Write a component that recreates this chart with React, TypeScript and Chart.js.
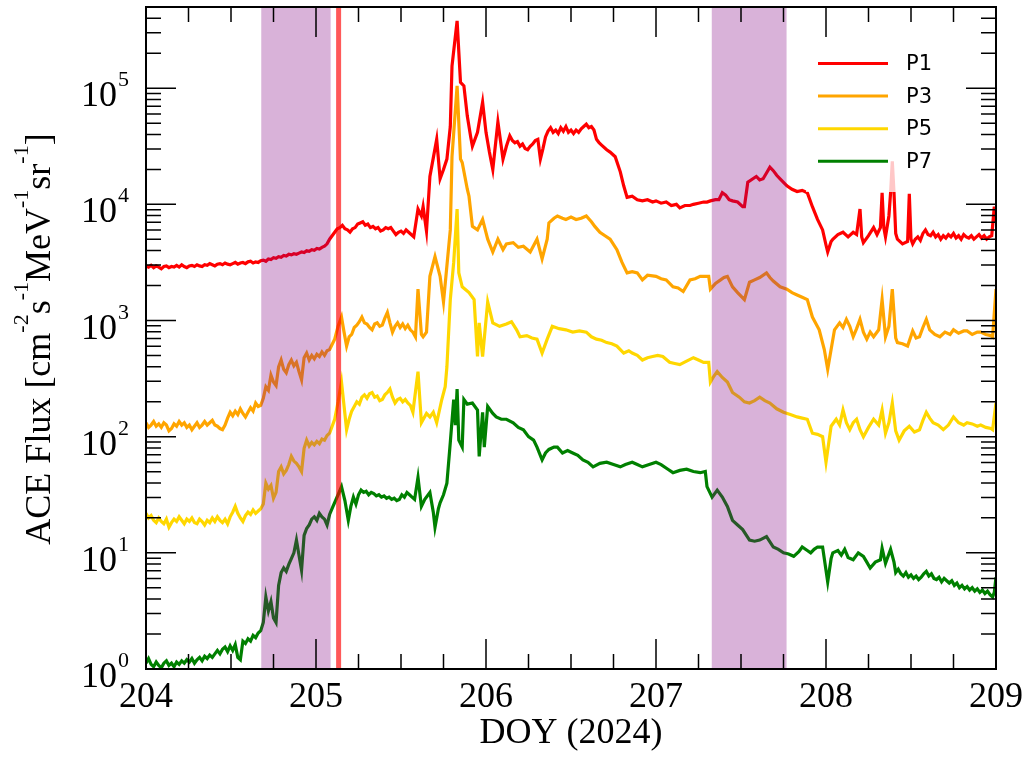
import React, { useEffect, useRef } from "react";
import { Chart, registerables } from "chart.js";

Chart.register(...registerables);

// ---- data: [DOY, log10(flux)] ----
const P1: number[][] = [
  [204.000,3.47],[204.015,3.46],[204.030,3.475],[204.045,3.455],[204.060,3.47],[204.075,3.46],[204.090,3.445],[204.105,3.465],
  [204.120,3.47],[204.135,3.455],[204.150,3.465],[204.165,3.46],[204.180,3.475],[204.195,3.46],[204.210,3.48],[204.225,3.465],
  [204.240,3.455],[204.255,3.47],[204.270,3.475],[204.285,3.465],[204.300,3.48],[204.315,3.47],[204.330,3.465],[204.345,3.48],
  [204.360,3.475],[204.375,3.49],[204.390,3.48],[204.405,3.47],[204.420,3.485],[204.435,3.49],[204.450,3.48],[204.465,3.495],
  [204.480,3.485],[204.495,3.48],[204.510,3.49],[204.525,3.50],[204.540,3.485],[204.555,3.495],[204.570,3.50],[204.585,3.49],
  [204.600,3.505],[204.615,3.51],[204.630,3.495],[204.645,3.505],[204.660,3.50],[204.675,3.515],[204.690,3.52],[204.705,3.51],
  [204.720,3.53],[204.735,3.525],[204.750,3.54],[204.765,3.535],[204.780,3.55],[204.795,3.545],[204.810,3.56],[204.825,3.555],
  [204.840,3.57],[204.855,3.565],[204.870,3.575],[204.885,3.57],[204.900,3.58],[204.915,3.59],[204.930,3.585],[204.945,3.60],
  [204.960,3.595],[204.975,3.61],[204.990,3.605],[205.005,3.62],[205.020,3.615],[205.035,3.63],[205.050,3.64],[205.065,3.66],
  [205.080,3.70],[205.110,3.76],[205.125,3.79],[205.140,3.80],[205.155,3.82],[205.170,3.79],[205.185,3.78],[205.200,3.76],
  [205.215,3.79],[205.230,3.80],[205.245,3.83],[205.260,3.84],[205.275,3.85],[205.290,3.82],[205.305,3.83],[205.320,3.80],
  [205.335,3.81],[205.350,3.79],[205.365,3.80],[205.380,3.77],[205.395,3.78],[205.410,3.80],[205.425,3.79],[205.440,3.80],
  [205.455,3.77],[205.470,3.74],[205.485,3.76],[205.500,3.77],[205.515,3.75],[205.530,3.78],[205.545,3.76],[205.560,3.74],
  [205.575,3.72],[205.60,3.96],[205.62,3.90],[205.63,3.98],[205.65,3.77],[205.67,4.24],[205.69,4.40],
  [205.71,4.56],[205.73,4.22],[205.75,4.30],[205.77,4.39],[205.79,4.67],[205.80,5.19],[205.83,5.58],[205.85,5.05],
  [205.87,5.02],[205.89,4.76],[205.91,4.58],[205.92,4.50],[205.95,4.62],[205.98,4.88],[206.00,4.62],[206.02,4.45],
  [206.04,4.30],[206.07,4.71],[206.10,4.39],[206.12,4.50],[206.140,4.59],[206.155,4.55],[206.170,4.53],[206.185,4.54],
  [206.200,4.50],[206.215,4.52],[206.230,4.48],[206.245,4.47],[206.260,4.50],[206.275,4.52],[206.290,4.55],[206.305,4.56],
  [206.320,4.39],[206.335,4.48],[206.350,4.58],[206.365,4.63],[206.380,4.66],[206.395,4.62],[206.410,4.64],[206.425,4.61],
  [206.440,4.66],[206.455,4.63],[206.470,4.67],[206.485,4.62],[206.500,4.64],[206.515,4.61],[206.530,4.64],[206.545,4.62],
  [206.560,4.65],[206.575,4.67],[206.590,4.69],[206.605,4.66],[206.620,4.67],[206.635,4.64],[206.650,4.56],[206.665,4.53],
  [206.68,4.51],[206.71,4.47],[206.73,4.45],[206.76,4.41],[206.79,4.28],[206.81,4.16],
  [206.83,4.06],[206.86,4.07],[206.89,4.04],[206.92,4.03],[206.95,4.04],[206.98,4.02],[207.00,4.03],[207.03,4.01],
  [207.06,4.02],[207.09,3.99],[207.12,4.00],[207.14,3.97],[207.17,3.99],[207.20,3.99],[207.22,4.00],[207.25,4.01],
  [207.28,4.02],[207.30,4.02],[207.32,4.03],[207.35,4.04],[207.37,4.04],[207.39,4.10],[207.41,4.08],[207.43,4.04],
  [207.45,4.03],[207.48,4.02],[207.51,3.98],[207.52,3.98],[207.54,4.19],[207.57,4.22],[207.59,4.24],[207.61,4.21],
  [207.63,4.22],[207.65,4.27],[207.67,4.32],[207.69,4.29],[207.71,4.25],[207.73,4.22],[207.75,4.19],[207.77,4.16],
  [207.80,4.13],[207.83,4.11],[207.86,4.12],[207.89,4.10],[207.92,3.98],[207.95,3.87],[207.98,3.78],[208.00,3.65],
  [208.01,3.59],[208.03,3.68],[208.04,3.70],[208.07,3.74],[208.10,3.76],[208.13,3.72],[208.16,3.76],[208.18,3.74],
  [208.20,3.96],[208.21,3.72],[208.22,3.67],[208.25,3.73],[208.28,3.80],[208.30,3.74],[208.32,3.80],[208.33,4.10],
  [208.34,3.80],[208.35,3.72],[208.37,3.90],[208.38,4.10],[208.39,4.37],[208.40,4.10],[208.41,3.75],[208.42,3.70],
  [208.45,3.66],[208.48,3.68],[208.49,4.09],[208.50,3.70],[208.510,3.66],[208.525,3.70],[208.540,3.72],[208.555,3.69],
  [208.570,3.75],[208.585,3.78],[208.600,3.74],[208.615,3.73],[208.630,3.76],[208.645,3.72],[208.660,3.74],[208.675,3.70],
  [208.690,3.73],[208.705,3.71],[208.720,3.74],[208.735,3.72],[208.750,3.75],[208.765,3.71],[208.780,3.73],[208.795,3.70],
  [208.810,3.74],[208.825,3.72],[208.840,3.71],[208.855,3.73],[208.870,3.70],[208.885,3.72],[208.900,3.74],[208.915,3.71],
  [208.930,3.73],[208.945,3.70],[208.960,3.72],[208.975,3.73],[208.990,3.98],[209.000,3.85],
];

const P3: number[][] = [
  [204.000,2.12],[204.015,2.08],[204.030,2.10],[204.045,2.13],[204.060,2.09],[204.075,2.11],[204.090,2.08],[204.105,2.12],
  [204.120,2.10],[204.135,2.05],[204.150,2.07],[204.165,2.11],[204.180,2.09],[204.195,2.13],[204.210,2.10],[204.225,2.12],
  [204.240,2.08],[204.255,2.10],[204.270,2.06],[204.285,2.09],[204.300,2.12],[204.315,2.08],[204.330,2.10],[204.345,2.13],
  [204.360,2.10],[204.375,2.12],[204.390,2.14],[204.405,2.10],[204.420,2.09],[204.435,2.07],[204.450,2.06],[204.465,2.10],
  [204.480,2.16],[204.495,2.21],[204.510,2.18],[204.525,2.22],[204.540,2.19],[204.555,2.24],[204.570,2.20],[204.585,2.17],
  [204.600,2.21],[204.615,2.25],[204.630,2.22],[204.645,2.29],[204.660,2.26],[204.675,2.27],[204.690,2.33],[204.705,2.43],
  [204.720,2.40],[204.735,2.53],[204.750,2.47],[204.765,2.44],[204.780,2.60],[204.795,2.66],[204.810,2.58],[204.825,2.55],
  [204.840,2.62],[204.855,2.66],[204.870,2.61],[204.885,2.64],[204.900,2.56],[204.915,2.49],[204.930,2.68],[204.945,2.72],
  [204.960,2.66],[204.975,2.70],[204.990,2.67],[205.005,2.71],[205.020,2.69],[205.035,2.73],[205.050,2.70],[205.065,2.74],
  [205.080,2.75],[205.11,2.84],[205.13,2.95],[205.150,3.03],[205.165,2.90],[205.180,2.78],[205.195,2.86],[205.210,2.88],
  [205.225,2.94],[205.240,2.96],[205.255,2.99],[205.270,3.03],[205.285,2.98],[205.300,2.97],[205.315,2.94],[205.330,2.92],
  [205.345,2.97],[205.360,2.98],[205.375,2.95],[205.390,2.96],[205.405,3.02],[205.420,3.07],[205.435,2.98],[205.450,2.90],
  [205.465,2.95],[205.480,2.98],[205.495,2.94],[205.510,2.97],[205.525,2.93],[205.540,2.96],[205.555,2.92],[205.570,2.90],
  [205.585,2.86],[205.60,3.27],[205.62,2.88],[205.63,2.86],
  [205.65,2.90],[205.67,3.38],[205.70,3.55],[205.73,3.38],[205.75,3.16],[205.77,3.47],[205.79,3.78],[205.80,4.41],
  [205.83,5.02],[205.85,4.39],[205.86,4.36],[205.89,4.13],[205.90,4.07],[205.92,3.81],[205.95,3.78],[205.98,3.87],
  [206.01,3.70],[206.04,3.59],[206.07,3.70],[206.10,3.61],[206.12,3.66],[206.16,3.67],[206.19,3.63],[206.22,3.64],
  [206.26,3.59],[206.30,3.70],[206.33,3.53],[206.36,3.70],[206.37,3.84],[206.40,3.88],[206.42,3.90],[206.45,3.88],
  [206.47,3.87],[206.50,3.89],[206.53,3.87],[206.56,3.88],[206.59,3.90],[206.62,3.85],[206.64,3.81],[206.67,3.76],
  [206.70,3.73],[206.73,3.70],[206.77,3.61],[206.80,3.50],[206.83,3.41],[206.86,3.42],[206.89,3.41],[206.92,3.35],
  [206.95,3.39],[207.00,3.38],[207.03,3.36],[207.06,3.35],[207.10,3.29],[207.13,3.28],[207.16,3.25],[207.20,3.35],
  [207.23,3.36],[207.26,3.38],[207.31,3.38],[207.32,3.27],[207.35,3.32],[207.38,3.35],[207.40,3.37],[207.42,3.38],
  [207.45,3.29],[207.48,3.24],[207.52,3.18],[207.55,3.33],[207.58,3.35],[207.61,3.37],[207.65,3.41],[207.67,3.37],
  [207.69,3.34],[207.73,3.29],[207.77,3.27],[207.80,3.24],[207.83,3.22],[207.86,3.20],[207.89,3.18],[207.92,3.03],
  [207.96,2.92],[207.99,2.75],[208.01,2.58],[208.03,2.75],[208.05,2.92],[208.08,2.98],[208.10,2.94],[208.12,3.01],
  [208.14,2.95],[208.16,2.86],[208.18,2.93],[208.20,3.01],[208.22,2.90],[208.24,2.84],[208.26,2.90],[208.28,2.86],
  [208.31,2.92],[208.33,3.18],[208.35,2.86],[208.37,2.95],[208.39,3.27],[208.41,2.85],[208.42,2.81],[208.45,2.80],
  [208.48,2.78],[208.51,2.91],[208.53,2.85],[208.55,2.86],[208.57,2.94],[208.59,3.01],[208.61,2.92],[208.64,2.88],
  [208.67,2.86],[208.70,2.90],[208.73,2.88],[208.75,2.92],[208.78,2.89],[208.81,2.91],[208.83,2.91],[208.86,2.88],
  [208.89,2.90],[208.91,2.90],[208.94,2.88],[208.97,2.87],[208.98,2.86],[209.00,3.27],
];

const P5: number[][] = [
  [204.000,1.34],[204.015,1.30],[204.030,1.32],[204.045,1.28],[204.060,1.26],[204.075,1.30],[204.090,1.27],[204.105,1.25],
  [204.120,1.29],[204.135,1.22],[204.150,1.26],[204.165,1.29],[204.180,1.27],[204.195,1.31],[204.210,1.28],[204.225,1.25],
  [204.240,1.29],[204.255,1.27],[204.270,1.30],[204.285,1.26],[204.300,1.25],[204.315,1.29],[204.330,1.27],[204.345,1.24],
  [204.360,1.28],[204.375,1.26],[204.390,1.30],[204.405,1.27],[204.420,1.31],[204.435,1.28],[204.450,1.26],[204.465,1.29],
  [204.480,1.25],[204.495,1.31],[204.510,1.35],[204.525,1.40],[204.540,1.34],[204.555,1.30],[204.570,1.27],[204.585,1.32],
  [204.600,1.35],[204.615,1.33],[204.630,1.37],[204.645,1.34],[204.660,1.36],[204.675,1.38],[204.690,1.42],[204.705,1.60],
  [204.720,1.55],[204.735,1.58],[204.750,1.47],[204.765,1.52],[204.780,1.70],[204.795,1.74],[204.810,1.68],[204.825,1.71],
  [204.840,1.76],[204.855,1.83],[204.870,1.79],[204.885,1.77],[204.900,1.74],[204.915,1.70],[204.930,1.90],[204.945,1.97],
  [204.960,1.92],[204.975,1.95],[204.990,1.93],[205.005,1.96],[205.020,1.94],[205.035,1.98],[205.050,1.97],[205.065,2.01],
  [205.080,2.03],[205.11,2.15],[205.13,2.30],[205.15,2.47],[205.180,2.06],[205.195,2.15],[205.210,2.22],[205.225,2.26],
  [205.240,2.30],[205.255,2.28],[205.270,2.34],[205.285,2.36],[205.300,2.33],[205.315,2.37],[205.330,2.38],[205.345,2.34],
  [205.360,2.35],[205.375,2.31],[205.390,2.32],[205.405,2.36],[205.420,2.38],[205.435,2.41],[205.450,2.34],[205.465,2.29],
  [205.480,2.32],[205.495,2.33],[205.510,2.30],[205.525,2.32],[205.540,2.29],[205.555,2.27],[205.570,2.21],[205.60,2.56],
  [205.62,2.12],[205.65,2.20],
  [205.67,2.17],[205.69,2.21],[205.71,2.12],[205.74,2.32],[205.76,2.43],[205.77,2.60],[205.79,3.18],[205.81,3.50],
  [205.83,3.96],[205.84,3.41],[205.86,3.29],[205.90,3.24],[205.93,3.18],[205.95,2.69],[205.96,2.98],[205.98,2.69],
  [206.01,3.16],[206.04,2.98],[206.08,2.95],[206.12,2.97],[206.15,2.99],[206.18,2.92],[206.20,2.86],[206.24,2.87],
  [206.27,2.85],[206.30,2.84],[206.33,2.72],[206.36,2.84],[206.39,2.95],[206.43,2.93],[206.47,2.92],[206.51,2.90],
  [206.55,2.91],[206.59,2.90],[206.62,2.86],[206.65,2.84],[206.68,2.83],[206.71,2.81],[206.74,2.80],[206.77,2.78],
  [206.81,2.72],[206.84,2.74],[206.86,2.72],[206.89,2.70],[206.92,2.66],[206.95,2.68],[206.98,2.69],[207.01,2.70],
  [207.04,2.69],[207.08,2.64],[207.11,2.63],[207.14,2.62],[207.18,2.65],[207.22,2.68],[207.25,2.66],[207.28,2.64],
  [207.31,2.64],[207.32,2.47],[207.34,2.52],[207.36,2.56],[207.39,2.51],[207.42,2.47],[207.45,2.38],[207.49,2.34],
  [207.52,2.30],[207.55,2.29],[207.58,2.31],[207.61,2.34],[207.64,2.31],[207.67,2.29],[207.71,2.24],[207.75,2.21],
  [207.79,2.19],[207.83,2.17],[207.86,2.16],[207.89,2.15],[207.92,2.03],[207.95,2.02],[207.98,2.00],[208.00,1.78],
  [208.03,2.09],[208.06,2.15],[208.08,2.10],[208.10,2.23],[208.12,2.12],[208.14,2.06],[208.16,2.12],[208.18,2.15],
  [208.20,2.06],[208.22,2.00],[208.25,2.08],[208.28,2.15],[208.31,2.10],[208.33,2.23],[208.35,2.03],[208.37,2.12],
  [208.39,2.29],[208.41,2.05],[208.43,1.97],[208.46,2.05],[208.49,2.09],[208.52,2.04],[208.55,2.06],[208.57,2.14],
  [208.59,2.21],[208.61,2.16],[208.63,2.12],[208.66,2.10],[208.69,2.06],[208.72,2.10],[208.75,2.17],[208.78,2.12],
  [208.81,2.10],[208.83,2.12],[208.86,2.11],[208.89,2.09],[208.91,2.10],[208.94,2.08],[208.97,2.07],[208.98,2.06],
  [209.00,2.29],
];

const P7: number[][] = [
  [204.000,0.05],[204.015,0.09],[204.030,0.04],[204.045,0.02],[204.060,0.06],[204.075,0.03],[204.090,0.01],[204.105,0.05],
  [204.120,0.07],[204.135,0.03],[204.150,0.05],[204.165,0.02],[204.180,0.06],[204.195,0.04],[204.210,0.07],[204.225,0.05],
  [204.240,0.08],[204.255,0.06],[204.270,0.09],[204.285,0.05],[204.300,0.08],[204.315,0.10],[204.330,0.07],[204.345,0.11],
  [204.360,0.09],[204.375,0.12],[204.390,0.10],[204.405,0.13],[204.420,0.16],[204.435,0.13],[204.450,0.17],[204.465,0.19],
  [204.480,0.15],[204.495,0.20],[204.510,0.16],[204.525,0.21],[204.540,0.10],[204.555,0.08],[204.570,0.24],[204.585,0.22],
  [204.600,0.26],[204.615,0.24],[204.630,0.29],[204.645,0.27],[204.660,0.31],[204.675,0.33],[204.690,0.40],[204.705,0.62],
  [204.720,0.50],[204.735,0.58],[204.750,0.44],[204.765,0.40],[204.780,0.72],[204.795,0.83],[204.810,0.87],[204.825,0.84],
  [204.840,0.90],[204.855,0.95],[204.870,1.00],[204.885,1.11],[204.900,0.98],[204.915,0.85],[204.930,1.15],[204.945,1.21],
  [204.960,1.24],[204.975,1.29],[204.990,1.31],[205.005,1.28],[205.020,1.34],[205.035,1.31],[205.050,1.29],[205.065,1.24],
  [205.080,1.33],[205.10,1.40],[205.13,1.50],[205.15,1.57],[205.17,1.45],[205.190,1.28],[205.205,1.40],[205.220,1.48],
  [205.235,1.42],[205.250,1.50],[205.265,1.54],[205.280,1.52],[205.295,1.53],[205.310,1.50],[205.325,1.52],[205.340,1.51],
  [205.355,1.49],[205.370,1.50],[205.385,1.48],[205.400,1.49],[205.415,1.47],[205.430,1.48],[205.445,1.46],[205.460,1.47],
  [205.475,1.45],[205.490,1.46],[205.505,1.50],[205.520,1.48],[205.535,1.52],[205.550,1.50],[205.565,1.48],[205.580,1.46],
  [205.60,1.65],[205.62,1.40],[205.64,1.46],[205.67,1.52],
  [205.69,1.35],[205.70,1.22],[205.72,1.38],[205.73,1.43],[205.75,1.50],[205.77,1.60],[205.79,1.95],[205.81,2.32],
  [205.82,2.10],[205.83,2.41],[205.84,1.97],[205.86,1.91],[205.87,2.32],[205.89,2.28],[205.92,2.29],[205.95,2.23],
  [205.96,1.83],[205.98,2.21],[205.99,1.91],[206.01,2.26],[206.04,2.20],[206.06,2.17],[206.09,2.15],[206.12,2.15],
  [206.16,2.12],[206.19,2.08],[206.22,2.06],[206.25,2.00],[206.28,1.97],[206.30,1.91],[206.33,1.80],[206.35,1.86],
  [206.37,1.89],[206.40,1.91],[206.42,1.91],[206.45,1.86],[206.48,1.88],[206.51,1.86],[206.54,1.84],[206.57,1.80],
  [206.60,1.78],[206.63,1.74],[206.67,1.77],[206.71,1.78],[206.75,1.76],[206.79,1.74],[206.82,1.76],[206.86,1.78],
  [206.89,1.76],[206.92,1.74],[206.96,1.76],[207.00,1.78],[207.03,1.76],[207.07,1.72],[207.10,1.69],[207.14,1.71],
  [207.18,1.72],[207.22,1.70],[207.26,1.69],[207.29,1.70],[207.30,1.57],[207.33,1.48],[207.36,1.54],[207.39,1.48],
  [207.42,1.40],[207.45,1.28],[207.48,1.24],[207.51,1.20],[207.55,1.11],[207.58,1.10],[207.61,1.11],[207.65,1.14],
  [207.69,1.05],[207.72,1.03],[207.75,1.00],[207.78,0.99],[207.81,0.97],[207.84,1.01],[207.86,1.05],[207.89,1.02],
  [207.91,1.00],[207.93,1.03],[207.95,1.05],[207.98,1.05],[208.00,0.85],[208.01,0.75],[208.03,0.95],[208.04,1.00],
  [208.07,1.02],[208.09,0.98],[208.11,1.03],[208.13,0.96],[208.16,0.94],[208.19,1.00],[208.22,0.97],[208.24,0.92],
  [208.26,0.87],[208.29,0.92],[208.32,0.94],[208.33,1.04],[208.35,0.91],[208.38,1.03],[208.40,0.92],[208.410,0.83],
  [208.425,0.86],[208.440,0.82],[208.455,0.80],[208.470,0.83],[208.485,0.79],[208.500,0.81],[208.515,0.78],[208.530,0.80],
  [208.545,0.77],[208.560,0.79],[208.575,0.82],[208.590,0.84],[208.605,0.80],[208.620,0.82],[208.635,0.78],[208.650,0.77],
  [208.665,0.79],[208.680,0.75],[208.695,0.78],[208.710,0.76],[208.725,0.74],[208.740,0.76],[208.755,0.72],[208.770,0.74],
  [208.785,0.70],[208.800,0.72],[208.815,0.69],[208.830,0.71],[208.845,0.68],[208.860,0.70],[208.875,0.67],[208.890,0.69],
  [208.905,0.66],[208.920,0.68],[208.935,0.65],[208.950,0.67],[208.965,0.64],[208.980,0.62],[208.990,0.66],[209.000,0.79],
];

const SERIES_NAMES = ["P1", "P3", "P5", "P7"];
const SERIES_COLORS = ["#ff0000", "#ffa500", "#ffd700", "#008000"];
const SHADED_INTERVALS = [[204.678, 205.086], [207.328, 207.768]];
const EVENT_DOY = 205.133;
const X_TICKS = [204, 205, 206, 207, 208, 209];
const Y_DECADES = [0, 1, 2, 3, 4, 5];
const X_MIN = 204, X_MAX = 209, Y_MIN = 1, Y_MAX = 5e5;

const SERIF = '"Liberation Serif", "Times New Roman", serif';
const SANS = '"DejaVu Sans", sans-serif';

function toPoints(rows: number[][]) {
  return rows.map(([t, lg]) => ({ x: t, y: Math.pow(10, lg) }));
}

const decorPlugin = {
  id: "decor",
  afterDatasetsDraw(chart: any) {
    const { ctx, chartArea: a, scales } = chart;
    const xs = scales.x, ys = scales.y;
    ctx.save();
    // shaded intervals
    ctx.fillStyle = "rgba(128,0,128,0.3)";
    for (const [s, e] of SHADED_INTERVALS) {
      const x0 = xs.getPixelForValue(s), x1 = xs.getPixelForValue(e);
      ctx.fillRect(x0, a.top, x1 - x0, a.bottom - a.top);
    }
    // event line
    ctx.strokeStyle = "rgba(255,0,0,0.65)";
    ctx.lineWidth = 5;
    const ex = xs.getPixelForValue(EVENT_DOY);
    ctx.beginPath();
    ctx.moveTo(ex, a.top);
    ctx.lineTo(ex, a.bottom);
    ctx.stroke();

    // legend
    ctx.fillStyle = "rgba(255,255,255,0.78)";
    ctx.fillRect(a.right - 190, a.top + 33, 150, 152);
    ctx.font = "21px " + SANS;
    ctx.textBaseline = "middle";
    ctx.textAlign = "left";
    SERIES_NAMES.forEach((n, i) => {
      const yy = a.top + 56.5 + i * 32.6;
      ctx.strokeStyle = SERIES_COLORS[i];
      ctx.lineWidth = 3;
      ctx.beginPath();
      ctx.moveTo(a.right - 178, yy);
      ctx.lineTo(a.right - 108, yy);
      ctx.stroke();
      ctx.fillStyle = "#000";
      ctx.fillText(n, a.right - 90, yy + 1);
    });

    // frame
    ctx.strokeStyle = "#000";
    ctx.lineWidth = 2;
    ctx.strokeRect(a.left, a.top, a.right - a.left, a.bottom - a.top);

    // ticks
    ctx.lineWidth = 1.5;
    ctx.beginPath();
    for (let v = X_MIN; v <= X_MAX + 1e-9; v += 0.25) {
      const px = xs.getPixelForValue(v);
      const major = Math.abs(v - Math.round(v)) < 1e-6;
      const len = major ? 30 : 15;
      ctx.moveTo(px, a.bottom);
      ctx.lineTo(px, a.bottom - len);
      ctx.moveTo(px, a.top);
      ctx.lineTo(px, a.top + len);
    }
    for (let d = 0; d <= 5; d++) {
      for (let m = 1; m <= 9; m++) {
        const v = m * Math.pow(10, d);
        if (v > Y_MAX) break;
        const py = ys.getPixelForValue(v);
        const len = m === 1 ? 30 : 15;
        ctx.moveTo(a.left, py);
        ctx.lineTo(a.left + len, py);
        ctx.moveTo(a.right, py);
        ctx.lineTo(a.right - len, py);
      }
    }
    ctx.stroke();

    // x tick labels
    ctx.fillStyle = "#000";
    ctx.font = "36px " + SERIF;
    ctx.textAlign = "center";
    ctx.textBaseline = "alphabetic";
    for (const v of X_TICKS) {
      ctx.fillText(String(v), xs.getPixelForValue(v), a.bottom + 38);
    }
    // x title
    ctx.fillText("DOY (2024)", (a.left + a.right) / 2, a.bottom + 74);

    // y tick labels 10^k
    ctx.textAlign = "left";
    for (const k of Y_DECADES) {
      const py = ys.getPixelForValue(Math.pow(10, k));
      ctx.font = "36px " + SERIF;
      const wb = ctx.measureText("10").width;
      ctx.font = "22px " + SERIF;
      const ws = ctx.measureText(String(k)).width;
      const right = a.left - 18;
      const x0 = right - ws - wb;
      ctx.font = "36px " + SERIF;
      ctx.fillText("10", x0, py + 18);
      ctx.font = "22px " + SERIF;
      ctx.fillText(String(k), x0 + wb + 1, py - 2);
    }

    // y title with superscripts
    const parts: [string, boolean][] = [
      ["ACE Flux [cm", false], ["-2", true], ["s", false], ["-1", true],
      ["MeV", false], ["-1", true], ["sr", false], ["-1", true], ["]", false],
    ];
    let total = 0;
    for (const [t, sup] of parts) {
      ctx.font = (sup ? "22px " : "36px ") + SERIF;
      total += ctx.measureText(t).width;
    }
    ctx.translate(50, (a.top + a.bottom) / 2 + 1);
    ctx.rotate(-Math.PI / 2);
    let cx = -total / 2;
    for (const [t, sup] of parts) {
      ctx.font = (sup ? "22px " : "36px ") + SERIF;
      ctx.fillText(t, cx, sup ? -22 : 0);
      cx += ctx.measureText(t).width;
    }
    ctx.restore();
  },
};

export default function App() {
  const ref = useRef<HTMLCanvasElement | null>(null);
  useEffect(() => {
    if (!ref.current) return;
    const series = [P1, P3, P5, P7];
    const chart = new Chart(ref.current, {
      type: "line",
      data: {
        datasets: series.map((rows, i) => ({
          label: SERIES_NAMES[i],
          data: toPoints(rows),
          borderColor: SERIES_COLORS[i],
          backgroundColor: SERIES_COLORS[i],
          borderWidth: 3.2,
          pointRadius: 0,
          tension: 0,
          fill: false,
          order: 4 - i,
        })),
      },
      options: {
        responsive: false,
        animation: false,
        events: [],
        layout: { padding: { left: 146, right: 33, top: 7, bottom: 90 } },
        plugins: { legend: { display: false }, tooltip: { enabled: false } },
        scales: {
          x: { type: "linear", min: X_MIN, max: X_MAX, display: false },
          y: { type: "logarithmic", min: Y_MIN, max: Y_MAX, display: false },
        },
      },
      plugins: [decorPlugin],
    });
    return () => chart.destroy();
  }, []);
  return (
    <div style={{ position: "absolute", left: 0, top: 0, width: 1029, height: 759, background: "#fff" }}>
      <canvas ref={ref} width={1029} height={759} style={{ display: "block" }} />
    </div>
  );
}
